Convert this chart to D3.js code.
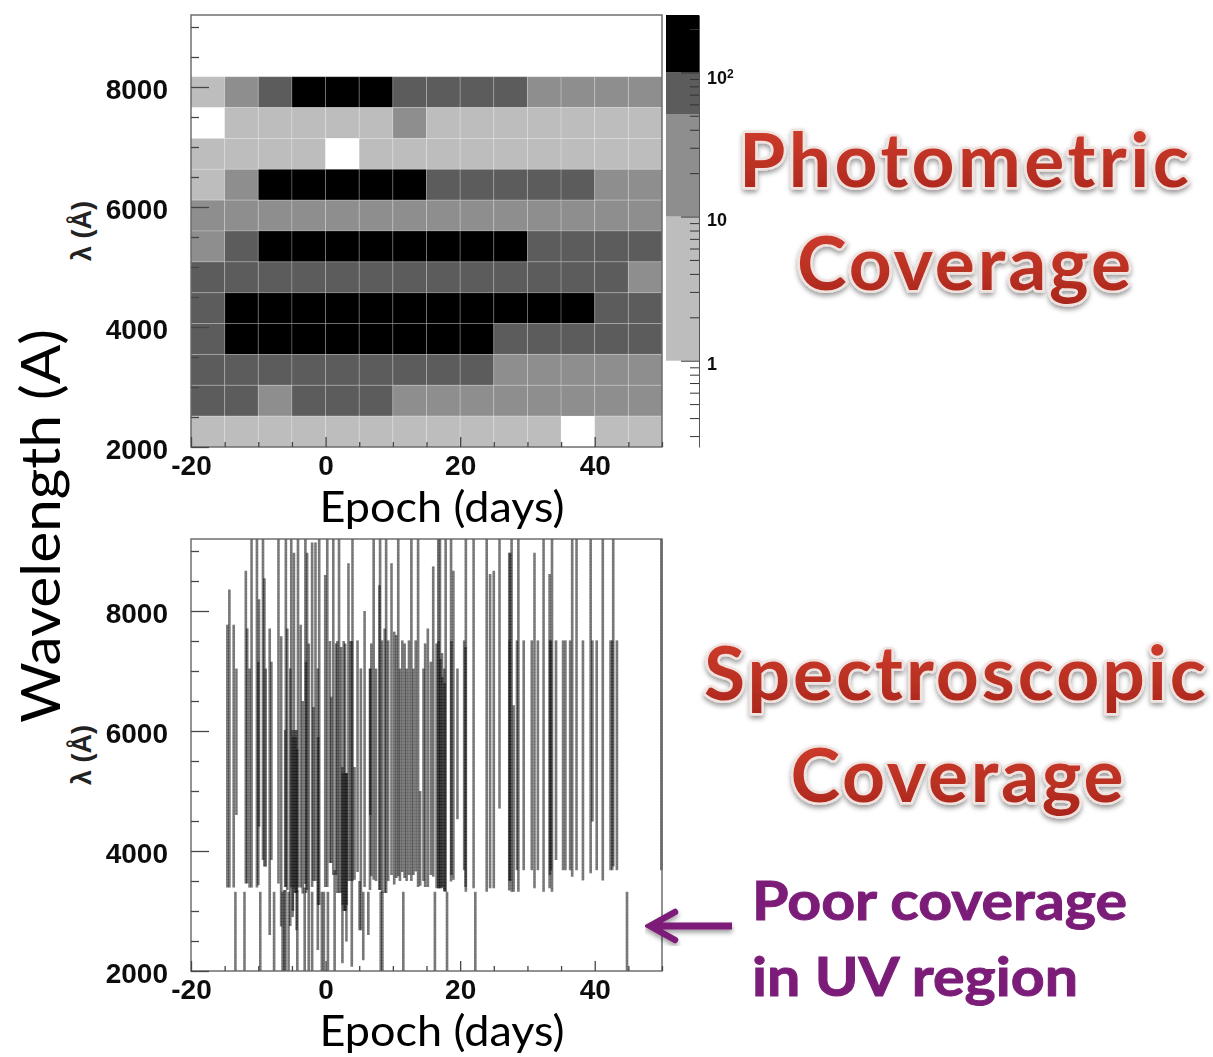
<!DOCTYPE html>
<html><head><meta charset="utf-8">
<script src="https://cdn.jsdelivr.net/npm/d3@7/dist/d3.min.js"></script>
<style>html,body{margin:0;padding:0;background:#fff}svg{display:block}</style>
</head><body><svg id="c" width="1213" height="1057"></svg>
<script>
const epochTicks=[-20,0,20,40];
const lambdaTicks=[2000,4000,6000,8000];
const epochBins=[-20,-15,-10,-5,0,5,10,15,20,25,30,35,40,45];
const colorThresholds=[1,10,51,100];
const colorShades=["#ffffff","#bdbdbd","#8e8e8e","#5c5c5c","#000000"];
const photCounts=[ // top wavelength bin first, one value per epoch bin
[0,0,0,0,0,0,0,0,0,0,0,0,0,0],
[0,0,0,0,0,0,0,0,0,0,0,0,0,0],
[4,20,75,200,200,200,75,75,75,75,20,20,20,20],
[0,4,4,4,4,4,20,4,4,4,4,4,4,4],
[4,4,4,4,0,4,4,4,4,4,4,4,4,4],
[4,20,200,200,200,200,200,75,75,75,75,75,20,20],
[20,20,20,20,20,20,20,20,20,20,20,20,20,20],
[20,75,200,200,200,200,200,200,200,200,75,75,75,75],
[75,75,75,75,75,75,75,75,75,75,75,75,75,20],
[75,200,200,200,200,200,200,200,200,200,200,200,75,75],
[75,200,200,200,200,200,200,200,200,75,75,75,75,75],
[75,75,75,75,75,75,75,75,75,20,20,20,20,20],
[75,75,20,75,75,75,20,20,20,20,20,20,20,20],
[4,4,4,4,4,4,4,4,4,4,4,0,4,4]];
const spectra=[ // epoch, lowest wavelength, highest wavelength
[-14.6,3390,7770],[-14.3,3390,8360],[-13.65,3390,7770],[-13.25,4600,7040],[-13.4,2000,3320],[-12.05,2000,3320],
[-11.85,3460,8670],[-11.65,3460,7710],[-11.3,3390,7040],[-11,3390,9200],[-10.2,3390,9200],[-10,3430,7155],[-9.9,4405,8195],
[-9.7,2000,3320],[-9.3,3850,9200],[-9.1,3740,8545],[-8.9,3740,7040],[-8.3,2600,7710],[-8.05,3850,7155],[-7.65,2000,3320],
[-7,3460,9200],[-6.6,2740,7580],[-6.4,2000,3320],[-6.15,2000,3350],[-5.95,2000,3350],[-6,3400,6017],[-5.9,3400,9200],[-5.7,3350,7710],
[-5.5,2000,3320],[-5.25,2750,7040],[-5.1,3390,9200],[-4.9,2900,6017],[-4.85,3000,5900],[-4.7,3390,8970],[-4.5,3300,6017],[-4.45,3300,5900],[-4.3,2680,6017],[-4.25,3300,5700],
[-4.2,2000,3350],[-4.1,3390,9200],[-3.7,3390,7770],[-3.4,3290,6500],[-3.1,2000,3390],[-3,3450,9200],[-2.9,3300,7155],
[-2.75,3350,8970],[-2.5,2000,7460],[-2,2000,3320],[-2,3400,9140],[-1.8,3500,6400],[-1.5,3500,9140],[-1.15,2350,7040],[-1.1,3100,5900],
[-0.95,3100,9200],[-0.55,2000,3320],[-0.25,2000,3320],[-0.05,3400,8600],[0.25,3400,9200],[0.35,2000,3320],[0.65,3800,7500],
[0.85,3800,6570],[1.15,3600,9200],[1.35,2000,3680],[1.55,3600,7460],[1.75,3300,7500],[2,3300,9200],[2.3,3300,7400],
[2.5,2130,5400],[2.55,3100,5300],[2.7,3000,7500],[2.9,3000,7460],[2.95,3000,5300],[3.1,2490,5300],[3.15,3100,5300],[3.4,3500,8795],[3.7,3500,7500],[3.9,2070,7500],[4,3500,9200],
[4.3,3520,5400],[4.75,3650,7510],[5.05,2680,3500],[5.25,2680,7040],[5.6,2180,3320],[5.8,3400,8000],[6.35,2600,3320],
[6.6,3350,7040],[6.8,3580,7460],[6.65,4600,7040],[7.15,3520,9200],[7.5,3500,7040],[8,3350,8430],[8.1,3350,9200],[8.2,2000,3320],[8.45,2000,3320],
[8.4,3300,7510],[8.8,3300,7710],[9,3300,9200],[9.3,3500,7510],[9.8,3600,8795],[10.2,3440,7655],[10.5,3550,7600],[10.8,3580,9200],
[11.05,3500,7040],[11.4,3650,7510],[11.55,2000,3320],[11.75,3550,7460],[12.05,3500,7040],[12.4,3600,7510],[12.75,3500,9200],
[13.05,3600,7040],[13.4,3660,7510],[13.75,3400,9200],[14.05,3420,5000],[14.55,3500,7040],[14.8,3400,7460],[15.2,3400,7710],
[15.65,3600,7155],[16,3570,8740],[16.25,2000,3320],[16.5,3380,7460],[16.75,3380,9200],[16.8,3380,7500],[17,3380,9200],[17.05,3380,7200],[17.3,3380,7300],[17.35,3400,6900],
[17.65,3330,7040],[17.7,3330,6800],[17.85,3320,9200],[18.05,2000,3320],[18.65,3490,9200],[18.7,3600,7500],[19,3520,8670],[19.6,4530,7040],[20.6,3680,7510],
[20.85,3320,9200],[20.8,3400,7400],[22,3380,9200],[22.25,2000,3320],[23.95,3320,9200],[24.45,3380,8615],[25,3380,8670],[25.85,4710,9200],
[27.3,3340,8970],[27.45,3500,8970],[27.35,3500,7510],[27.65,3320,9200],[27.95,3320,6430],[28.45,3680,7510],[28.65,3320,9200],[29.45,3680,7510],
[30.65,3680,7510],[31.05,3380,8970],[31.55,3680,7510],[32.4,3320,9200],[33.3,3380,8615],[33.35,3600,7510],[33.5,3680,7510],[33.65,3320,9200],
[34.25,3850,7510],[35.3,3680,7510],[35.65,3680,7510],[36.35,3680,7510],[36.65,3570,9200],[37.3,3680,9200],[38.25,3510,7510],
[39.4,3630,9200],[39.65,4490,7510],[40.3,3680,7510],[41.2,3510,9200],[42.35,3680,7510],[42.6,3680,7510],[42.75,3740,9200],
[43.3,3680,7510],[44.8,2000,3320],[49.9,3680,9200]];

const svg=d3.select("#c");
const W=471,X0=191,H=432,binE=5,binL=7200/14;
const defs=svg.append("defs");
defs.append("filter").attr("id","soft").append("feGaussianBlur").attr("stdDeviation",0.45);
const sh=defs.append("filter").attr("id","shadow").attr("x","-5%").attr("y","-15%").attr("width","110%").attr("height","135%");
sh.append("feDropShadow").attr("dx",0).attr("dy",3).attr("stdDeviation",2.5).attr("flood-color","#000").attr("flood-opacity",0.4);
const gr=defs.append("linearGradient").attr("id","red").attr("x1",0).attr("y1",0).attr("x2",0).attr("y2",1);
gr.append("stop").attr("offset","0").attr("stop-color","#d5402f");
gr.append("stop").attr("offset","1").attr("stop-color","#a8261b");

function panel(top){
  const x=d3.scaleLinear([-20,50],[X0,X0+W]);
  const y=d3.scaleLinear([2000,9200],[top+H,top]);
  const g=svg.append("g");
  return {x,y,g,top};
}
function axes(p){
  const {x,y,g,top}=p;
  const a=g.append("g").attr("filter","url(#soft)");
  a.append("rect").attr("x",X0).attr("y",top).attr("width",W).attr("height",H).attr("fill","none").attr("stroke","#666").attr("stroke-width",1.4);
  const minorE=d3.range(-20,51,5).filter(v=>!epochTicks.includes(v));
  const minorL=d3.range(2000,9201,500).filter(v=>!lambdaTicks.includes(v));
  const st=s=>{s.select(".domain").remove();s.selectAll("line").attr("stroke","#444").attr("stroke-width",1.3);
    s.selectAll("text").attr("font-family","Liberation Sans").attr("font-weight","bold").attr("font-size",28).attr("fill","#111");};
  a.append("g").attr("transform",`translate(${X0},0)`).call(d3.axisLeft(y).tickValues(lambdaTicks).tickFormat(d=>String(d)).tickSizeInner(-18).tickSizeOuter(0).tickPadding(23)).call(st)
    .selectAll("text").attr("dy","0.4em");
  a.append("g").attr("transform",`translate(${X0},0)`).call(d3.axisLeft(y).tickValues(minorL).tickFormat("").tickSizeInner(-8).tickSizeOuter(0)).call(st);
  a.append("g").attr("transform",`translate(0,${top+H})`).call(d3.axisBottom(x).tickValues(epochTicks).tickFormat(d=>String(d)).tickSizeInner(-10).tickSizeOuter(0).tickPadding(8)).call(st);
  a.append("g").attr("transform",`translate(0,${top+H})`).call(d3.axisBottom(x).tickValues(minorE).tickFormat("").tickSizeInner(-5).tickSizeOuter(0)).call(st);
  g.append("text").attr("transform",`translate(91,${top+216}) rotate(-90)`).attr("text-anchor","middle")
    .attr("font-family","Liberation Sans").attr("font-weight","bold").attr("font-size",27).attr("fill","#222").text("λ (Å)");
  g.append("text").attr("x",442).attr("y",top+H+75).attr("text-anchor","middle").attr("font-family","Lato").attr("font-size",42)
    .attr("textLength",245).attr("lengthAdjust","spacingAndGlyphs").attr("fill","#000").text("Epoch (days)");
}

// top panel
const p1=panel(15);
const color=d3.scaleThreshold(colorThresholds,colorShades);
const cells=p1.g.append("g").attr("filter","url(#soft)");
photCounts.forEach((row,i)=>{
  const lo=2000+binL*(photCounts.length-1-i);
  cells.selectAll(null).data(row).join("rect")
    .attr("x",(d,j)=>p1.x(epochBins[j])).attr("width",p1.x(binE)-p1.x(0))
    .attr("y",p1.y(lo+binL)).attr("height",p1.y(lo)-p1.y(lo+binL))
    .attr("fill",d=>color(d)).attr("stroke",d=>d>0?"rgba(255,255,255,0.2)":"none").attr("stroke-width",1);
});
axes(p1);
// colour bar
const cb=d3.scaleLog([0.252,250],[447,15]);
const cbG=svg.append("g").attr("filter","url(#soft)");
const edges=[1,...colorThresholds.slice(1),250];
cbG.selectAll(null).data(d3.pairs(edges)).join("rect").attr("x",666).attr("width",33)
  .attr("y",d=>cb(d[1])).attr("height",d=>cb(d[0])-cb(d[1])).attr("fill",d=>color(d[0]));
const cbMinor=[0.3,0.4,0.5,0.6,0.7,0.8,0.9,2,3,4,5,6,7,8,9,20,30,40,50,60,70,80,90,200];
const cbAxis=cbG.append("g").attr("transform","translate(699,0)");
cbAxis.call(d3.axisRight(cb).tickValues([1,10,100]).tickFormat(d=>d===100?"10":String(d)).tickSizeInner(-18).tickSizeOuter(0).tickPadding(8));
cbAxis.selectAll("text").attr("font-family","Liberation Sans").attr("font-weight","bold").attr("font-size",18).attr("fill","#111").attr("dy","0.5em");
cbAxis.selectAll(".tick").filter(d=>d===100).select("text").attr("dy","0.6em").append("tspan").attr("dy","-0.45em").attr("font-size",12).text("2");
cbAxis.select(".domain").attr("stroke","#555");
cbAxis.selectAll("line").attr("stroke","#333");
const cbAxis2=cbG.append("g").attr("transform","translate(699,0)");
cbAxis2.call(d3.axisRight(cb).tickValues(cbMinor).tickFormat("").tickSizeInner(-9).tickSizeOuter(0));
cbAxis2.select(".domain").remove();
cbAxis2.selectAll("line").attr("stroke","#333");

// bottom panel
const p2=panel(539);
const bars=p2.g.append("g").attr("filter","url(#soft)");
bars.selectAll("line").data(spectra).join("line")
  .attr("x1",d=>p2.x(d[0])).attr("x2",d=>p2.x(d[0]))
  .attr("y1",d=>p2.y(d[1])).attr("y2",d=>p2.y(d[2]))
  .attr("stroke","#111").attr("stroke-width",2.6).attr("stroke-opacity",0.6);
const hatch=p2.g.append("g");
hatch.selectAll("line").data(d3.range(2000,9200,50)).join("line")
  .attr("x1",p2.x(-20)).attr("x2",p2.x(50)).attr("y1",d=>p2.y(d)).attr("y2",d=>p2.y(d))
  .attr("stroke","#fff").attr("stroke-width",0.6).attr("stroke-opacity",0.28);
axes(p2);

// annotations
svg.append("text").attr("transform","translate(60,526) rotate(-90)").attr("text-anchor","middle")
  .attr("font-family","Lato").attr("font-size",54).attr("textLength",394).attr("lengthAdjust","spacingAndGlyphs").attr("fill","#000").text("Wavelength (A)");
const titles=[["Photometric",964,187,450],["Coverage",964,290,334],["Spectroscopic",955,700,502],["Coverage",957,802,333]];
svg.selectAll(null).data(titles).join("text")
  .attr("x",d=>d[1]).attr("y",d=>d[2]).attr("text-anchor","middle").attr("font-family","Lato").attr("font-weight","bold").attr("font-size",75)
  .attr("textLength",d=>d[3]).attr("lengthAdjust","spacing").attr("fill","url(#red)").attr("stroke","#efe2df").attr("stroke-width",5).attr("paint-order","stroke")
  .attr("stroke-linejoin","round").attr("filter","url(#shadow)").text(d=>d[0]);
const purple="#7b1d78";
const notes=[["Poor coverage",920,375],["in UV region",996,326]];
svg.selectAll(null).data(notes).join("text").attr("x",752).attr("y",d=>d[1]).attr("font-family","Lato").attr("font-weight","bold").attr("font-size",54)
  .attr("textLength",d=>d[2]).attr("lengthAdjust","spacingAndGlyphs").attr("fill",purple).attr("stroke",purple).attr("stroke-width",1).text(d=>d[0]);
const arrow=svg.append("g").attr("filter","url(#shadow)").attr("fill","none").attr("stroke",purple).attr("stroke-linejoin","miter");
arrow.append("path").attr("d",d3.line()([[732,926],[655,926]])).attr("stroke-width",7);
arrow.append("path").attr("d",d3.line()([[675,912],[650,926],[675,940]])).attr("stroke-width",6.5).attr("stroke-linecap","round");
</script></body></html>
